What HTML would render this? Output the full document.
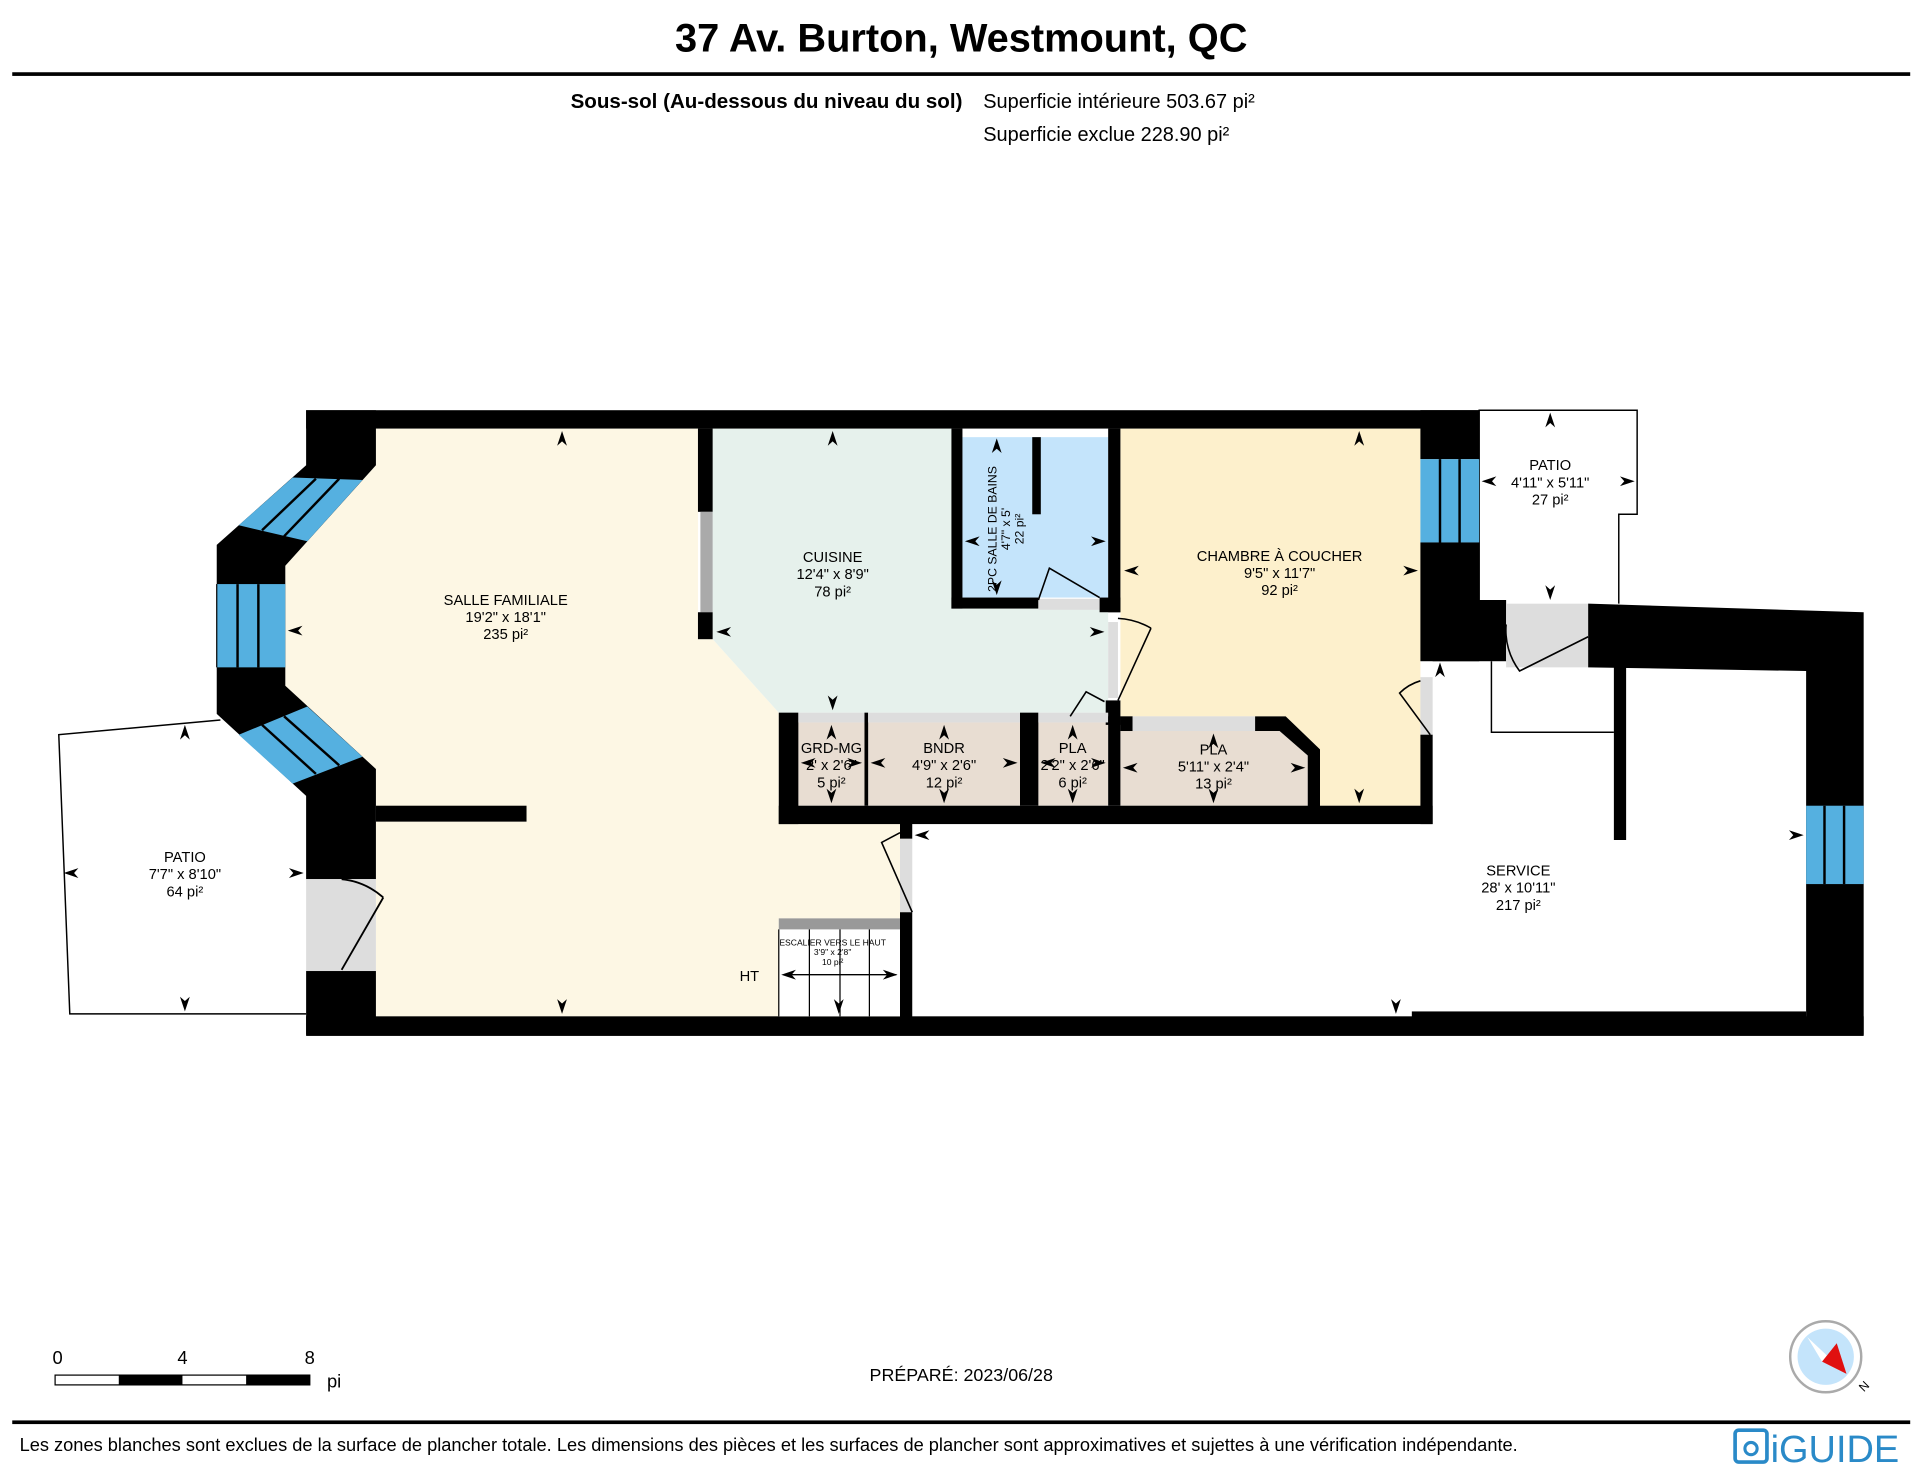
<!DOCTYPE html>
<html><head><meta charset="utf-8"><style>
html,body{margin:0;padding:0;background:#fff;}
svg{display:block;}
text{font-family:"Liberation Sans",Arial,sans-serif;}
</style></head><body>
<svg width="1920" height="1464" viewBox="0 0 1568 1195.6" preserveAspectRatio="none" xmlns="http://www.w3.org/2000/svg">
<defs>
<polygon id="a" points="0,0 -4,12 0,8.5 4,12" fill="#000"/>
</defs>
<rect width="1568" height="1196" fill="#fff"/>
<!-- header -->
<text x="785" y="42" font-size="32.5" font-weight="bold" text-anchor="middle">37 Av. Burton, Westmount, QC</text>
<rect x="10" y="59" width="1550" height="3" fill="#000"/>
<text x="786" y="88" font-size="16.8" font-weight="bold" text-anchor="end">Sous-sol (Au-dessous du niveau du sol)</text>
<text x="803" y="88" font-size="16.3">Superficie intérieure 503.67 pi²</text>
<text x="803" y="115" font-size="16.3">Superficie exclue 228.90 pi²</text>

<!-- left patio outline -->
<polyline points="180,588 48,600 57,828 250,828" fill="none" stroke="#000" stroke-width="1.2"/>
<!-- right patio outline -->
<polyline points="1208,490 1208,335 1337,335 1337,420 1322,420 1322,493" fill="none" stroke="#000" stroke-width="1.2"/>
<polyline points="1218,540 1218,598 1318,598" fill="none" stroke="#000" stroke-width="1.2"/>

<!-- room fills -->
<polygon points="307,350 570,350 570,522 582,522 636,582 636,672 740,672 740,830 307,830 307,628 233,560 233,462 307,380" fill="#fdf7e4"/>
<polygon points="582,350 777,350 777,497 905,497 905,582 636,582 582,522" fill="#e6f1ec"/>
<rect x="786" y="357" width="119" height="131" fill="#c4e4fb"/>
<polygon points="915,350 1160,350 1160,658 1078,658 1078,612 1050,585 915,585" fill="#fdf0cc"/>
<rect x="652" y="590" width="54" height="68" fill="#e8ddd2"/>
<rect x="709" y="590" width="124" height="68" fill="#e8ddd2"/>
<rect x="848" y="590" width="57" height="68" fill="#e8ddd2"/>
<polygon points="915,597 1045,597 1068,617 1068,658 915,658" fill="#e8ddd2"/>

<!-- walls -->
<rect x="250" y="335" width="958" height="15" fill="#000"/>
<polygon points="250,335 307,335 307,380 233,462 233,560 307,628 307,718 250,718 250,650 177,583 177,445 250,380" fill="#000"/>
<rect x="250" y="793" width="57" height="52" fill="#000"/>
<rect x="250" y="830" width="1272" height="16" fill="#000"/>
<rect x="307" y="658" width="123" height="13" fill="#000"/>
<rect x="570" y="350" width="12" height="68" fill="#000"/>
<rect x="572" y="418" width="10" height="82" fill="#aaa"/>
<rect x="570" y="500" width="12" height="22" fill="#000"/>
<!-- bathroom -->
<rect x="777" y="350" width="9" height="147" fill="#000"/>
<rect x="777" y="488" width="71" height="9" fill="#000"/>
<rect x="848" y="489" width="50" height="9" fill="#ddd"/>
<rect x="898" y="488" width="17" height="12" fill="#000"/>
<rect x="905" y="350" width="10" height="150" fill="#000"/>
<rect x="843" y="357" width="7" height="63" fill="#000"/>
<rect x="905" y="508" width="8" height="62" fill="#ddd"/>
<rect x="903" y="572" width="12" height="20" fill="#000"/>
<!-- closets -->
<rect x="636" y="582" width="16" height="91" fill="#000"/>
<rect x="636" y="658" width="534" height="15" fill="#000"/>
<rect x="652" y="582" width="54" height="8" fill="#ddd"/>
<rect x="706" y="582" width="3" height="76" fill="#000"/>
<rect x="709" y="582" width="124" height="8" fill="#ddd"/>
<rect x="833" y="582" width="15" height="76" fill="#000"/>
<rect x="848" y="582" width="57" height="8" fill="#ddd"/>
<rect x="905" y="585" width="10" height="73" fill="#000"/>
<rect x="915" y="585" width="10" height="12" fill="#000"/>
<rect x="925" y="585" width="100" height="12" fill="#ddd"/>
<polygon points="1025,585 1050,585 1078,612 1078,660 1068,660 1068,617 1045,597 1025,597" fill="#000"/>
<!-- chambre right -->
<rect x="1160" y="335" width="48" height="40" fill="#000"/>
<rect x="1160" y="375" width="48" height="68" fill="#55b0e0"/>
<line x1="1176" y1="375" x2="1176" y2="443" stroke="#000" stroke-width="2"/>
<line x1="1192" y1="375" x2="1192" y2="443" stroke="#000" stroke-width="2"/>
<rect x="1160" y="443" width="48" height="97" fill="#000"/>
<rect x="1170" y="490" width="60" height="50" fill="#000"/>
<rect x="1160" y="553" width="10" height="47" fill="#ddd"/>
<rect x="1160" y="600" width="10" height="73" fill="#000"/>
<!-- service walls -->
<rect x="1230" y="493" width="67" height="52" fill="#ddd"/>
<polygon points="1297,493 1522,500 1522,845 1475,845 1475,548 1297,545" fill="#000"/>
<rect x="1475" y="658" width="47" height="64" fill="#55b0e0"/>
<line x1="1490" y1="658" x2="1490" y2="722" stroke="#000" stroke-width="2"/>
<line x1="1506" y1="658" x2="1506" y2="722" stroke="#000" stroke-width="2"/>
<rect x="1318" y="545" width="10" height="141" fill="#000"/>
<rect x="1153" y="826" width="322" height="5" fill="#000"/>
<!-- door salle/service -->
<rect x="735" y="672" width="10" height="13" fill="#000"/>
<rect x="735" y="685" width="10" height="60" fill="#ddd"/>
<rect x="735" y="745" width="10" height="86" fill="#000"/>
<!-- stairs -->
<rect x="636" y="750" width="99" height="80" fill="#fff"/>
<rect x="636" y="750" width="99" height="9" fill="#999"/>
<g stroke="#000" stroke-width="1"><line x1="636" y1="759" x2="636" y2="830"/><line x1="661" y1="759" x2="661" y2="830"/><line x1="686" y1="759" x2="686" y2="830"/><line x1="710" y1="759" x2="710" y2="830"/></g>
<line x1="640" y1="796" x2="732" y2="796" stroke="#000" stroke-width="1.2"/>
<!-- left door -->
<rect x="250" y="718" width="57" height="75" fill="#ddd"/>
<path d="M279,792 L313,733 M279,718 A60,60 0 0 1 313,733" fill="none" stroke="#000" stroke-width="1.5"/>
<!-- windows on bay -->
<polygon points="239,390 195,429 251,442 296,392" fill="#55b0e0"/>
<g stroke="#000" stroke-width="2"><line x1="258" y1="391" x2="214" y2="433"/><line x1="277" y1="391" x2="232" y2="438"/></g>
<polygon points="195,600 239,640 296,618 251,577" fill="#55b0e0"/>
<g stroke="#000" stroke-width="2"><line x1="214" y1="592" x2="258" y2="632"/><line x1="232" y1="585" x2="277" y2="625"/></g>
<rect x="177" y="477" width="56" height="68" fill="#55b0e0"/>
<line x1="177" y1="477" x2="177" y2="545" stroke="#000" stroke-width="1"/>
<line x1="194" y1="477" x2="194" y2="545" stroke="#000" stroke-width="2"/>
<line x1="211" y1="477" x2="211" y2="545" stroke="#000" stroke-width="2"/>
<!-- door swings -->
<g fill="none" stroke="#000" stroke-width="1.3">
<path d="M913,572 L940,513 M913,505 A60,60 0 0 1 940,513"/>
<path d="M902,573 L887,565 L874,585"/>
<path d="M848,490 L857,464 L898,488"/>
<path d="M745,745 L720,688 L735,680"/>
<path d="M1168,600 L1143,566 A40,40 0 0 1 1160,556"/>
<path d="M1297,520 L1241,548 A55,55 0 0 1 1230,510"/>
</g>

<!-- labels -->
<g font-size="12" text-anchor="middle" fill="#000">
<text x="413" y="494">SALLE FAMILIALE</text><text x="413" y="508">19'2" x 18'1"</text><text x="413" y="522">235 pi²</text>
<text x="680" y="459">CUISINE</text><text x="680" y="473">12'4" x 8'9"</text><text x="680" y="487">78 pi²</text>
<text x="1045" y="458">CHAMBRE À COUCHER</text><text x="1045" y="472">9'5" x 11'7"</text><text x="1045" y="486">92 pi²</text>
<text x="1266" y="384">PATIO</text><text x="1266" y="398">4'11" x 5'11"</text><text x="1266" y="412">27 pi²</text>
<text x="151" y="704">PATIO</text><text x="151" y="718">7'7" x 8'10"</text><text x="151" y="732">64 pi²</text>
<text x="1240" y="715">SERVICE</text><text x="1240" y="729">28' x 10'11"</text><text x="1240" y="743">217 pi²</text>
<text x="679" y="615">GRD-MG</text><text x="679" y="629">2' x 2'6"</text><text x="679" y="643">5 pi²</text>
<text x="771" y="615">BNDR</text><text x="771" y="629">4'9" x 2'6"</text><text x="771" y="643">12 pi²</text>
<text x="876" y="615">PLA</text><text x="876" y="629">2'2" x 2'6"</text><text x="876" y="643">6 pi²</text>
<text x="991" y="616">PLA</text><text x="991" y="630">5'11" x 2'4"</text><text x="991" y="644">13 pi²</text>
<g transform="translate(818,432) rotate(-90)" font-size="10"><text x="0" y="-4">2PC SALLE DE BAINS</text><text x="0" y="7">4'7" x 5'</text><text x="0" y="18">22 pi²</text></g>
<text x="680" y="772" font-size="7">ESCALIER VERS LE HAUT</text><text x="680" y="780" font-size="7">3'9" x 2'8"</text><text x="680" y="788" font-size="7">10 pi²</text>
<text x="612" y="801">HT</text>
</g>

<!-- arrowheads -->
<use href="#a" transform="translate(459,352)"/>
<use href="#a" transform="translate(459,828) rotate(180)"/>
<use href="#a" transform="translate(235,515) rotate(-90)"/>
<use href="#a" transform="translate(585,516) rotate(-90)"/>
<use href="#a" transform="translate(680,352)"/>
<use href="#a" transform="translate(680,580) rotate(180)"/>
<use href="#a" transform="translate(902,516) rotate(90)"/>
<use href="#a" transform="translate(814,358)"/>
<use href="#a" transform="translate(814,486) rotate(180)"/>
<use href="#a" transform="translate(788,442) rotate(-90)"/>
<use href="#a" transform="translate(903,442) rotate(90)"/>
<use href="#a" transform="translate(1110,352)"/>
<use href="#a" transform="translate(1110,656) rotate(180)"/>
<use href="#a" transform="translate(918,466) rotate(-90)"/>
<use href="#a" transform="translate(1158,466) rotate(90)"/>
<use href="#a" transform="translate(1266,337)"/>
<use href="#a" transform="translate(1266,490) rotate(180)"/>
<use href="#a" transform="translate(1210,393) rotate(-90)"/>
<use href="#a" transform="translate(1335,393) rotate(90)"/>
<use href="#a" transform="translate(151,592)"/>
<use href="#a" transform="translate(151,826) rotate(180)"/>
<use href="#a" transform="translate(52,713) rotate(-90)"/>
<use href="#a" transform="translate(248,713) rotate(90)"/>
<use href="#a" transform="translate(679,592)"/>
<use href="#a" transform="translate(679,656) rotate(180)"/>
<use href="#a" transform="translate(654,623) rotate(-90)"/>
<use href="#a" transform="translate(704,623) rotate(90)"/>
<use href="#a" transform="translate(771,592)"/>
<use href="#a" transform="translate(771,656) rotate(180)"/>
<use href="#a" transform="translate(711,623) rotate(-90)"/>
<use href="#a" transform="translate(831,623) rotate(90)"/>
<use href="#a" transform="translate(876,592)"/>
<use href="#a" transform="translate(876,656) rotate(180)"/>
<use href="#a" transform="translate(850,623) rotate(-90)"/>
<use href="#a" transform="translate(903,623) rotate(90)"/>
<use href="#a" transform="translate(991,599)"/>
<use href="#a" transform="translate(991,656) rotate(180)"/>
<use href="#a" transform="translate(917,627) rotate(-90)"/>
<use href="#a" transform="translate(1066,627) rotate(90)"/>
<use href="#a" transform="translate(1176,541)"/>
<use href="#a" transform="translate(1140,828) rotate(180)"/>
<use href="#a" transform="translate(747,682) rotate(-90)"/>
<use href="#a" transform="translate(1473,682) rotate(90)"/>
<use href="#a" transform="translate(638,796) rotate(-90)"/>
<use href="#a" transform="translate(733,796) rotate(90)"/>
<use href="#a" transform="translate(685,828) rotate(180)"/>

<!-- scale bar -->
<g font-size="15">
<text x="47" y="1114" text-anchor="middle">0</text>
<text x="149" y="1114" text-anchor="middle">4</text>
<text x="253" y="1114" text-anchor="middle">8</text>
<text x="267" y="1133">pi</text>
</g>
<rect x="45" y="1123" width="208" height="8" fill="#fff" stroke="#000" stroke-width="1"/>
<rect x="97" y="1123" width="52" height="8" fill="#000"/>
<rect x="201" y="1123" width="52" height="8" fill="#000"/>
<text x="785" y="1128" font-size="14.6" text-anchor="middle">PRÉPARÉ: 2023/06/28</text>
<!-- compass -->
<circle cx="1491" cy="1108" r="29" fill="#fff" stroke="#aaa" stroke-width="2"/>
<circle cx="1491" cy="1108" r="23" fill="#c4e4fb"/>
<polygon points="1476,1092 1508,1122 1488,1112" fill="#fff"/>
<polygon points="1500,1097 1508,1122 1488,1112" fill="#e01010"/>
<text x="1520" y="1138" font-size="10" transform="rotate(-45 1520 1135)">N</text>

<rect x="10" y="1160" width="1550" height="3" fill="#000"/>
<text x="16" y="1185" font-size="14.9">Les zones blanches sont exclues de la surface de plancher totale. Les dimensions des pièces et les surfaces de plancher sont approximatives et sujettes à une vérification indépendante.</text>
<rect x="1417" y="1168" width="26" height="26" rx="3" fill="none" stroke="#2a8ac8" stroke-width="3"/>
<circle cx="1430" cy="1183" r="5" fill="none" stroke="#2a8ac8" stroke-width="2.5"/>
<text x="1446" y="1194" font-size="31" fill="#2a8ac8">iGUIDE</text>
</svg>
</body></html>
